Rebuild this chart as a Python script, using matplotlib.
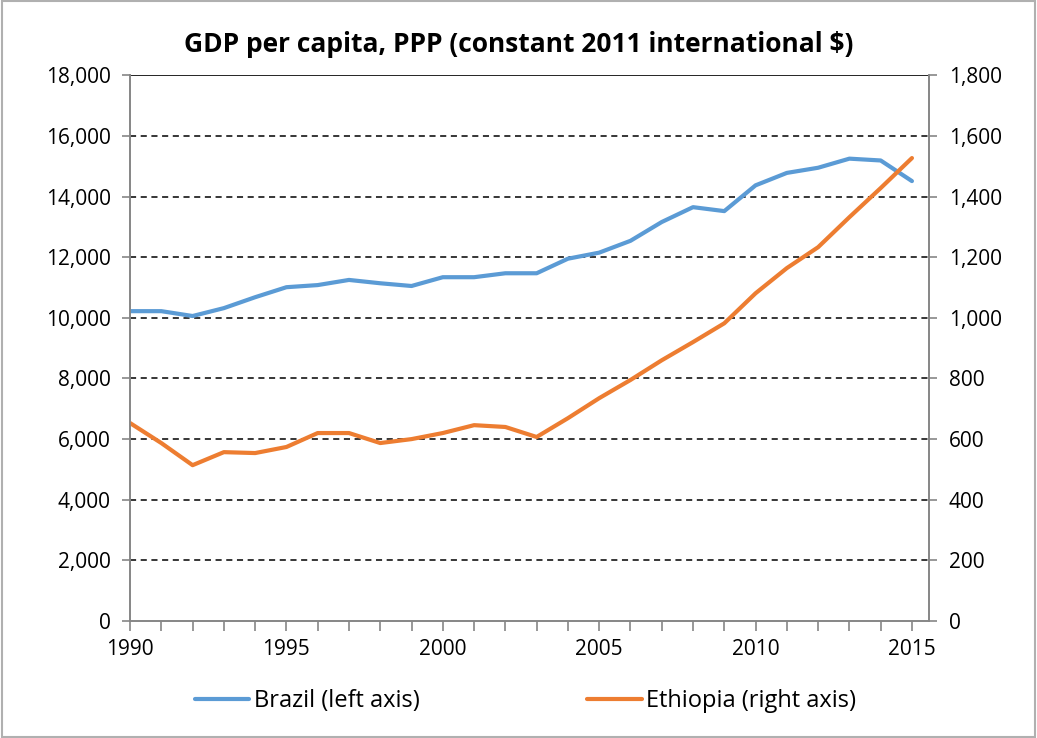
import matplotlib.pyplot as plt
from matplotlib.ticker import FuncFormatter, MultipleLocator
from matplotlib.patches import Rectangle

plt.rcParams['font.family'] = ['Open Sans', 'DejaVu Sans']

# data
years = list(range(1990, 2016))
brazil = [10220, 10220, 10060, 10320, 10680, 11010, 11080, 11250, 11140, 11050,
          11340, 11340, 11470, 11470, 11950, 12150, 12540, 13160, 13650, 13520,
          14370, 14780, 14950, 15250, 15190, 14510]
ethiopia = [653, 587, 514, 557, 554, 574, 620, 620, 587, 600,
            620, 646, 640, 607, 669, 735, 795, 860, 920, 982,
            1081, 1164, 1233, 1332, 1428, 1527]

blue = '#5b9bd5'
orange = '#ed7d31'
axis_grey = '#868686'

fig = plt.figure(figsize=(10.37, 7.38), dpi=100)
ax = fig.add_axes([0.1254, 0.1585, 0.7706, 0.7395])
ax2 = ax.twinx()

l1, = ax.plot(years, brazil, color=blue, lw=3, solid_capstyle='round')
l2, = ax2.plot(years, ethiopia, color=orange, lw=3, solid_capstyle='round')

ax.set_xlim(1990, 2015.55)
ax.set_ylim(0, 18000)
ax2.set_ylim(0, 1800)
ax.yaxis.set_major_locator(MultipleLocator(2000))
ax2.yaxis.set_major_locator(MultipleLocator(200))
ax.xaxis.set_major_locator(MultipleLocator(5))
ax.xaxis.set_minor_locator(MultipleLocator(1))
comma = FuncFormatter(lambda v, p: f'{int(v):,}')
ax.yaxis.set_major_formatter(comma)
ax2.yaxis.set_major_formatter(comma)

# gridlines
for v in range(2000, 18000, 2000):
    ax.axhline(v, color='black', lw=1.1, ls=(0, (4, 3)), zorder=0)
ax.axhline(18000, color='black', lw=1.2, zorder=0)

for a in (ax, ax2):
    a.spines['top'].set_visible(False)
    for s in ('left', 'right', 'bottom'):
        a.spines[s].set_color(axis_grey)
        a.spines[s].set_linewidth(1.2)
    a.tick_params(which='both', colors=axis_grey, labelcolor='black', labelsize=15, width=1.2)
ax.tick_params(axis='x', which='major', length=7, pad=6)
ax.tick_params(axis='x', which='minor', length=7)
ax.tick_params(axis='y', length=6, pad=8)
ax2.tick_params(axis='y', length=6, pad=8)

fig.suptitle('GDP per capita, PPP (constant 2011 international $)',
             y=0.958, fontsize=19, fontweight='bold')

fig.legend([l1, l2], ['Brazil (left axis)', 'Ethiopia (right axis)'],
           loc='center', bbox_to_anchor=(0.507, 0.05), ncol=2, frameon=False,
           fontsize=17, columnspacing=7.1, handlelength=2.3, handletextpad=0.2)

fig.patches.append(Rectangle((0.002, 0.002), 0.996, 0.996, transform=fig.transFigure,
                             fill=False, edgecolor='#b0b0b0', lw=1.5))

fig.savefig('out.png', dpi=100)
